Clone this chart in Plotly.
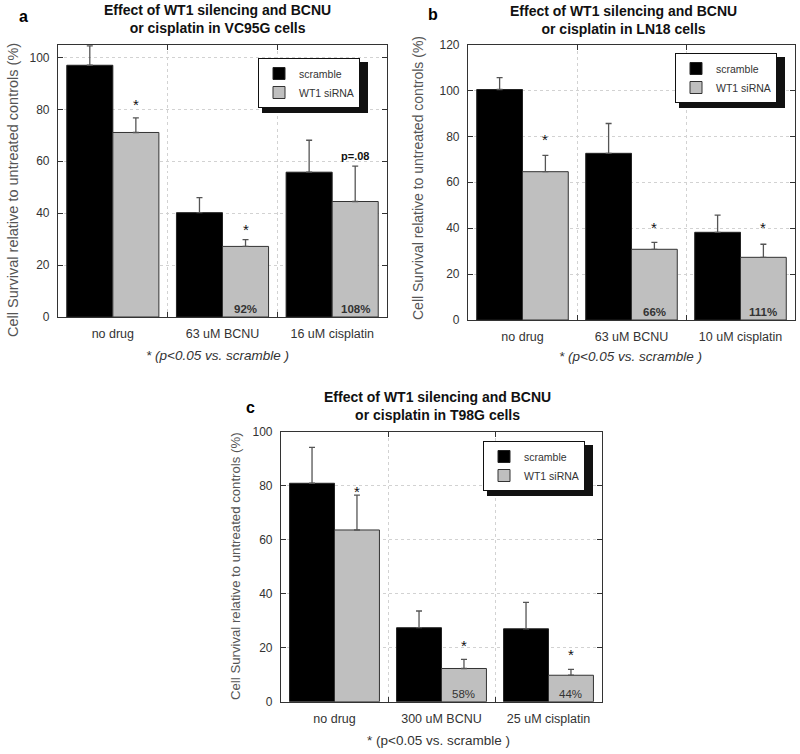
import plotly.graph_objects as go

W, H = 800, 754

# ---------------- data ----------------
cats_a = ["no drug", "63 uM BCNU", "16 uM cisplatin"]
scr_a = [97, 40.2, 55.8]
scr_err_a = [7.5, 5.8, 12.3]
sir_a = [71.1, 27.2, 44.5]
sir_err_a = [5.6, 2.6, 13.6]

cats_b = ["no drug", "63 uM BCNU", "10 uM cisplatin"]
scr_b = [100.4, 72.6, 38.2]
scr_err_b = [5.2, 13.0, 7.5]
sir_b = [64.6, 30.8, 27.3]
sir_err_b = [7.1, 3.0, 5.7]

cats_c = ["no drug", "300 uM BCNU", "25 uM cisplatin"]
scr_c = [80.9, 27.4, 27.0]
scr_err_c = [13.3, 6.2, 9.8]
sir_c = [63.6, 12.3, 9.8]
sir_err_c = [12.9, 3.4, 2.2]

sig_a = [(0, 83, "*"), (1, 35, "*"), (2, 62, "p=.08")]
sig_b = [(0, 80, "*"), (1, 41.5, "*"), (2, 41.5, "*")]
sig_c = [(0, 79, "*"), (1, 22, "*"), (2, 18.5, "*")]

pct_a = [(1, "92%"), (2, "108%")]
pct_b = [(1, "66%"), (2, "111%")]
pct_c = [(1, "58%"), (2, "44%")]

titles = ["Effect of WT1 silencing and BCNU<br>or cisplatin in VC95G cells",
          "Effect of WT1 silencing and BCNU<br>or cisplatin in LN18 cells",
          "Effect of WT1 silencing and BCNU<br>or cisplatin in T98G cells"]
letters = ["a", "b", "c"]
ytitle = "Cell Survival relative to untreated controls (%)"
footnote = "* (p<0.05 vs. scramble )"
series_names = ["scramble", "WT1 siRNA"]

FONT = "Liberation Sans, Arial, sans-serif"

def px(x):
    return x / W

def py(y):
    return 1 - y / H

# panel geometry (pixels)
panels = [
    dict(x0=58, x1=387, y0=44.5, y1=317, ymax=105, cats=cats_a, scr=scr_a, se=scr_err_a,
         sir=sir_a, sie=sir_err_a, sig=sig_a, pct=pct_a,
         title=(217, 19), letter=(23, 16), yt=(13, 190, 14.5), foot=(217, 355),
         leg=(258, 58), foot_italic=True, pctbold=True),
    dict(x0=468, x1=795, y0=44.5, y1=320, ymax=120, cats=cats_b, scr=scr_b, se=scr_err_b,
         sir=sir_b, sie=sir_err_b, sig=sig_b, pct=pct_b,
         title=(623, 20), letter=(433, 15), yt=(418, 178, 14), foot=(630, 356),
         leg=(675, 53), foot_italic=True, pctbold=True),
    dict(x0=281, x1=602, y0=431.7, y1=701.7, ymax=100, cats=cats_c, scr=scr_c, se=scr_err_c,
         sir=sir_c, sie=sir_err_c, sig=sig_c, pct=pct_c,
         title=(437, 406), letter=(250, 407), yt=(235, 566, 13.2), foot=(439, 740),
         leg=(483, 441), foot_italic=False, pctbold=False),
]

fig = go.Figure()
annotations = []
shapes = []
layout = {}

for i, p in enumerate(panels):
    sfx = "" if i == 0 else str(i + 1)
    xa, ya = "x" + sfx, "y" + sfx
    legname = "legend" + sfx
    fig.add_trace(go.Bar(
        x=p["cats"], y=p["scr"], name=series_names[0], xaxis=xa, yaxis=ya,
        marker=dict(color="#000000", line=dict(color="#222222", width=1)),
        error_y=dict(type="data", symmetric=False, array=p["se"],
                     arrayminus=[0] * len(p["se"]), color="#555555",
                     thickness=1.3, width=3),
        legend=legname, offsetgroup="s", hoverinfo="skip"))
    fig.add_trace(go.Bar(
        x=p["cats"], y=p["sir"], name=series_names[1], xaxis=xa, yaxis=ya,
        marker=dict(color="#bfbfbf", line=dict(color="#333333", width=1)),
        error_y=dict(type="data", symmetric=False, array=p["sie"],
                     arrayminus=[0] * len(p["sie"]), color="#555555",
                     thickness=1.3, width=3),
        legend=legname, offsetgroup="w", hoverinfo="skip"))

    common = dict(showline=True, linecolor="#333333", linewidth=1.2, mirror="ticks",
                  ticks="inside", ticklen=5, tickcolor="#333333",
                  showgrid=True, gridcolor="#d2d2d2", griddash="dot", gridwidth=1,
                  zeroline=False, ticklabelstandoff=5, automargin=False)
    layout["xaxis" + sfx] = dict(common, domain=[px(p["x0"]), px(p["x1"])],
                                 anchor=ya, type="category", tickson="boundaries",
                                 range=[-0.5, 2.5], fixedrange=True,
                                 tickfont=dict(family=FONT, size=12.5, color="#333333"))
    layout["yaxis" + sfx] = dict(common, domain=[py(p["y1"]), py(p["y0"])],
                                 anchor=xa, range=[0, p["ymax"]], dtick=20,
                                 tick0=0, fixedrange=True,
                                 tickfont=dict(family=FONT, size=12, color="#333333"))

    lx, ly = p["leg"]
    layout[legname] = dict(x=px(lx), y=py(ly), xanchor="left", yanchor="top",
                           bgcolor="#ffffff", bordercolor="#111111", borderwidth=1,
                           font=dict(family=FONT, size=10.5, color="#333333"),
                           itemwidth=30, tracegroupgap=0, traceorder="normal",
                           entrywidth=64, entrywidthmode="pixels")
    # drop shadow behind legend box (legend itself is drawn on top of shapes)
    shapes.append(dict(type="rect", xref="paper", yref="paper",
                       x0=px(lx + 4), x1=px(lx + 110), y0=py(ly + 55), y1=py(ly + 4),
                       fillcolor="#111111", line=dict(width=0), layer="above"))

    # significance marks above gray bars
    for idx, yv, txt in p["sig"]:
        big = txt == "*"
        annotations.append(dict(x=idx + 0.21, y=yv, xref=xa, yref=ya,
                                text=txt if big else "<b>%s</b>" % txt,
                                showarrow=False, yanchor="middle",
                                yshift=-3 if big else 0,
                                font=dict(family=FONT, size=15 if big else 11,
                                          color="#111111")))
    for idx, txt in p["pct"]:
        t = "<b>%s</b>" % txt if p["pctbold"] else txt
        annotations.append(dict(x=idx + 0.21, y=0, xref=xa, yref=ya, text=t,
                                showarrow=False, yanchor="bottom", yshift=0,
                                font=dict(family=FONT, size=11.5, color="#333333")))

    tx, ty = p["title"]
    annotations.append(dict(x=px(tx), y=py(ty), xref="paper", yref="paper",
                            text="<b>%s</b>" % titles[i],
                            showarrow=False, xanchor="center", yanchor="middle",
                            font=dict(family=FONT, size=14, color="#111111")))
    lx2, ly2 = p["letter"]
    annotations.append(dict(x=px(lx2), y=py(ly2), xref="paper", yref="paper",
                            text="<b>%s</b>" % letters[i], showarrow=False,
                            xanchor="center", yanchor="middle",
                            font=dict(family=FONT, size=16, color="#000000")))
    ytx, yty, yts = p["yt"]
    annotations.append(dict(x=px(ytx), y=py(yty),
                            xref="paper", yref="paper", text=ytitle, textangle=-90,
                            showarrow=False, xanchor="center", yanchor="middle",
                            font=dict(family=FONT, size=yts, color="#555555")))
    fx, fy = p["foot"]
    ft = "<i>%s</i>" % footnote if p["foot_italic"] else footnote
    annotations.append(dict(x=px(fx), y=py(fy), xref="paper", yref="paper",
                            text=ft, showarrow=False, xanchor="center",
                            yanchor="middle",
                            font=dict(family=FONT, size=13.5, color="#333333")))

fig.update_layout(
    width=W, height=H, margin=dict(l=0, r=0, t=0, b=0, pad=0, autoexpand=False),
    paper_bgcolor="#ffffff", plot_bgcolor="#ffffff",
    barmode="group", bargap=0.16, bargroupgap=0.0,
    annotations=annotations, shapes=shapes,
    font=dict(family=FONT),
    **layout,
)

fig.write_html(
    "out.html",
    config={"displayModeBar": False, "responsive": False},
    post_script=(
        "document.documentElement.style.margin='0';"
        "document.documentElement.style.overflow='hidden';"
        "document.body.style.margin='0';"
        "document.body.style.overflow='hidden';"
        "document.body.style.height='754px';"
        "var d=document.getElementById('{plot_id}');"
        "d.style.position='absolute';d.style.left='0px';d.style.top='0px';"
    ),
)
